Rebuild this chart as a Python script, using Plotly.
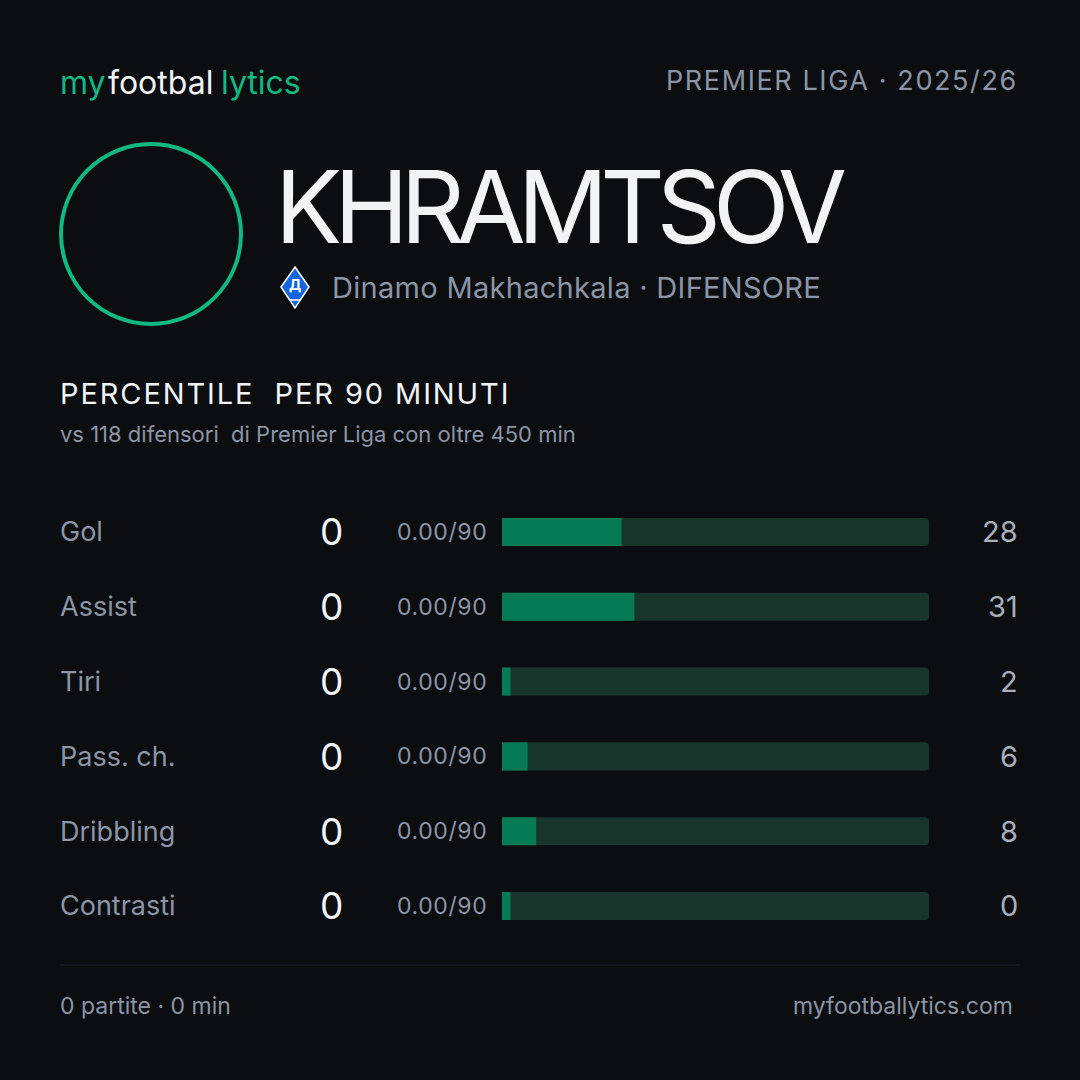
import plotly.graph_objects as go

# ---- data ----
stat_labels = ["Gol", "Assist", "Tiri", "Pass. ch.", "Dribbling", "Contrasti"]
stat_totals = [0, 0, 0, 0, 0, 0]
stat_per90 = ["0.00/90", "0.00/90", "0.00/90", "0.00/90", "0.00/90", "0.00/90"]
percentiles = [28, 31, 2, 6, 8, 0]

player_name = "KHRAMTSOV"
club_line = "Dinamo Makhachkala · DIFENSORE"
league_season = "PREMIER LIGA · 2025/26"
section_title = "PERCENTILE  PER 90 MINUTI"
section_sub = "vs 118 difensori  di Premier Liga con oltre 450 min"
footer_left = "0 partite · 0 min"
footer_right = "myfootballytics.com"

BG = "#0b0d11"
GREEN = "#10b981"
FILL = "#067a55"
TRACK = "#17352b"
GREY = "#8b95a4"
WHITE = "#f1f3f5"
FONT = "Inter"

W = H = 1080


def px(x):
    return x / W


def py(y):
    return 1 - y / H


def spaced(s, sp):
    return f"<span style='letter-spacing:{sp}px'>{s}</span>"


shown = [max(p, 2) for p in percentiles]

fig = go.Figure()
fig.add_trace(go.Bar(
    y=stat_labels, x=[100] * len(stat_labels), orientation="h",
    marker=dict(color=TRACK, cornerradius=4, line=dict(width=0)),
    width=0.375, hoverinfo="skip", showlegend=False,
))
fig.add_trace(go.Bar(
    y=stat_labels, x=shown, orientation="h",
    marker=dict(color=FILL, cornerradius=4, line=dict(width=0)),
    width=0.375, customdata=percentiles,
    hovertemplate="%{y}: %{customdata}<extra></extra>", showlegend=False,
))

# row domain: centres at 532 .. 906 px, step ~74.8
step = (906 - 532) / 5
top = 532 - step / 2
bottom = 906 + step / 2

fig.update_layout(
    width=W, height=H,
    margin=dict(l=0, r=0, t=0, b=0),
    paper_bgcolor=BG, plot_bgcolor=BG,
    barmode="overlay",
    xaxis=dict(domain=[px(502), px(929)], range=[0, 100], visible=False, fixedrange=True),
    yaxis=dict(domain=[py(bottom), py(top)], categoryorder="array",
               categoryarray=stat_labels[::-1], visible=False, fixedrange=True),
    font=dict(family=FONT, color=GREY),
)

ann = []


def text(x, y, s, size, color, anchor="left"):
    ann.append(dict(x=px(x), y=py(y), xref="paper", yref="paper",
                    text=s, showarrow=False, xanchor=anchor, yanchor="middle",
                    font=dict(family=FONT, size=size, color=color)))


# header brand
text(58, 82, "my", 32, GREEN)
text(106, 82, "footbal", 32, WHITE)
text(219, 82, "lytics", 32, GREEN)
text(1020, 81, spaced(league_season, 1.6), 27, GREY, "right")

# name + club
text(273, 207, spaced(player_name, -8), 100, WHITE)
text(330, 288, spaced(club_line, 0.3), 29, GREY)

# section titles
text(58, 393, spaced(section_title, 1.9), 29, WHITE)
text(58, 434, section_sub, 22, GREY)

# rows
for lab, tot, p90, pct in zip(stat_labels, stat_totals, stat_per90, percentiles):
    ann.append(dict(x=px(58), y=lab, xref="paper", yref="y", text=lab, showarrow=False,
                    xanchor="left", yanchor="middle", font=dict(family=FONT, size=27, color=GREY)))
    ann.append(dict(x=px(331), y=lab, xref="paper", yref="y", text=str(tot), showarrow=False,
                    xanchor="center", yanchor="middle", font=dict(family=FONT, size=37, color=WHITE)))
    ann.append(dict(x=px(489), y=lab, xref="paper", yref="y", text=spaced(p90, 0.6), showarrow=False,
                    xanchor="right", yanchor="middle", font=dict(family=FONT, size=23, color=GREY)))
    ann.append(dict(x=px(1020), y=lab, xref="paper", yref="y", text=str(pct), showarrow=False,
                    xanchor="right", yanchor="middle", font=dict(family=FONT, size=29, color="#a7afbb")))

# footer
text(58, 1006, footer_left, 23, GREY)
text(1015, 1006, footer_right, 23, GREY, "right")

# club badge letter
ann.append(dict(x=px(295), y=py(285), xref="paper", yref="paper", text="<b>Д</b>",
                showarrow=False, xanchor="center", yanchor="middle",
                font=dict(family=FONT, size=14, color="#ffffff")))

fig.update_layout(annotations=ann)

shapes = [
    # avatar ring
    dict(type="circle", xref="paper", yref="paper",
         x0=px(61), x1=px(241), y0=py(324), y1=py(144),
         line=dict(color=GREEN, width=4), fillcolor="rgba(0,0,0,0)"),
    # footer rule
    dict(type="line", xref="paper", yref="paper", x0=px(60), x1=px(1020),
         y0=py(965), y1=py(965), line=dict(color="#1f232b", width=1)),
    # club badge (diamond)
    dict(type="path", xref="paper", yref="paper",
         path=f"M {px(295)} {py(267)} L {px(309)} {py(287)} L {px(295)} {py(308)} L {px(281)} {py(287)} Z",
         fillcolor="#1565e0", line=dict(color="#ffffff", width=1.5)),
    dict(type="line", xref="paper", yref="paper", x0=px(290), x1=px(300),
         y0=py(300), y1=py(300), line=dict(color="#ffffff", width=1.5)),
]
fig.update_layout(shapes=shapes)

fig.write_html("out.html", config={"displayModeBar": False},
               post_script="document.body.style.margin='0';document.body.style.background='#0b0d11';")
